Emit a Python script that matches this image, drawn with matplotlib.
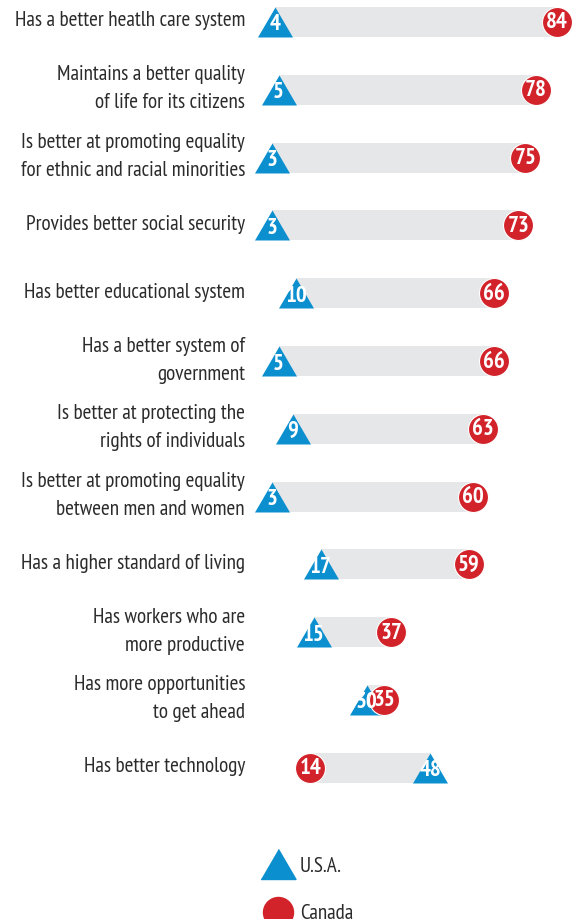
import numpy as np
import matplotlib
matplotlib.use('Agg')
import matplotlib.pyplot as plt
from matplotlib.lines import Line2D

categories = [
    'Has a better heatlh care system',
    'Maintains a better quality\nof life for its citizens',
    'Is better at promoting equality\nfor ethnic and racial minorities',
    'Provides better social security',
    'Has better educational system',
    'Has a better system of\ngovernment',
    'Is better at protecting the\nrights of individuals',
    'Is better at promoting equality\nbetween men and women',
    'Has a higher standard of living',
    'Has workers who are\nmore productive',
    'Has more opportunities\nto get ahead',
    'Has better technology',
]
usa = [4, 5, 3, 3, 10, 5, 9, 3, 17, 15, 30, 48]
canada = [84, 78, 75, 73, 66, 66, 63, 60, 59, 37, 35, 14]

BLUE = '#0b8fcf'
RED = '#d2232a'
GRAY = '#e6e7e8'
TXT = '#2b2b2b'
FONT = ['PT Sans Narrow', 'DejaVu Sans']

W, H = 577, 919
fig = plt.figure(figsize=(W / 100, H / 100), dpi=100)
ax = fig.add_axes([0, 0, 1, 1])

px_per_unit = 3.525
x0 = 261
row0, row_step = 22, 67.8
ax.set_xlim(-x0 / px_per_unit, (W - x0) / px_per_unit)
ax.set_ylim((H - row0) / row_step, -row0 / row_step)
ax.axis('off')

tri = [(-1, -0.857), (1, -0.857), (0, 0.857)]
y = np.arange(len(categories))
lo = np.minimum(usa, canada)
hi = np.maximum(usa, canada)

ax.barh(y, hi - lo, left=lo, height=30 / row_step, color=GRAY, zorder=1)
ax.scatter(usa, y, marker=tri, s=25.2 ** 2, color=BLUE, linewidths=0, zorder=2)
ax.scatter(canada, y, marker='o', s=21.6 ** 2, color=RED, edgecolors='white',
           linewidths=0.8, zorder=3)

for i in range(len(categories)):
    ax.text(usa[i], y[i] + 3 / row_step, str(usa[i]), color='white', ha='center', va='center',
            fontsize=16.5, fontweight='bold', family=FONT, zorder=5)
    ax.text(canada[i], y[i] + 1 / row_step, str(canada[i]), color='white', ha='center',
            va='center', fontsize=16.5, fontweight='bold', family=FONT, zorder=4)
    ax.text(-16 / px_per_unit, y[i] - 1 / row_step, categories[i], ha='right', va='center',
            fontsize=15.2, color=TXT, family=FONT, linespacing=1.6)

handles = [
    Line2D([], [], marker=tri, markersize=25.2, color=BLUE, linestyle='none'),
    Line2D([], [], marker='o', markersize=21.6, color=RED, linestyle='none'),
]
fig.legend(handles, ['U.S.A.', 'Canada'], loc='upper left',
           bbox_to_anchor=(247 / W, 1 - 846 / H), frameon=False, borderpad=0,
           handlelength=1.9, handletextpad=0.1, labelspacing=1.35,
           prop={'family': FONT, 'size': 15.2}, labelcolor=TXT)

fig.savefig('out.png', dpi=100)
